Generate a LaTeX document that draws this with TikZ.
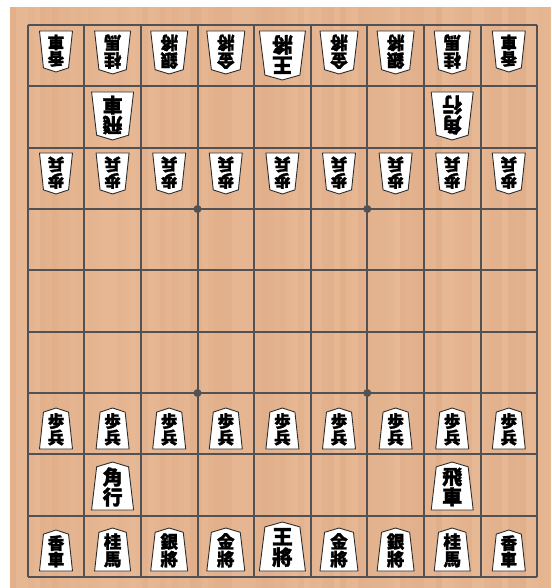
\documentclass[tikz,border=0pt]{standalone}
\usepackage{fontspec}
\newfontfamily\jp{Noto Sans CJK JP}[BoldFeatures={FakeBold=1.5}]
\usetikzlibrary{calc}

\definecolor{woodbase}{RGB}{233,186,150}
\definecolor{wooddark}{RGB}{212,158,120}
\definecolor{gridgray}{RGB}{82,82,84}
\definecolor{komaline}{RGB}{45,45,45}

\tikzset{
  koma/.style={draw=komaline,fill=white,line width=0.9pt,line join=round},
  komatext/.style={inner sep=0pt,align=center,text=black},
  ban/.style={draw=gridgray,line width=2pt},
}

% name, x, base y, width, height, angle, font size, text
\newcommand{\koma}[8]{%
  \begin{scope}[shift={({#2},{#3})},rotate=#6]
    \draw[koma] (-#4/2,0) -- (#4/2,0) -- (0.38*#4,-0.9*#5) -- (0,-#5)
      -- (-0.38*#4,-0.9*#5) -- cycle;
    \node[komatext,rotate=#6,font=\jp\bfseries\fontsize{#7}{#7}\selectfont]
      (#1) at (0,-0.48*#5) {#8};
  \end{scope}}

\begin{document}
\begin{tikzpicture}[x=1pt,y=-1pt]
  \useasboundingbox (0,0) rectangle (551,588);
  % wood
  \fill[woodbase] (10,7) rectangle (551,588);
  \pgfmathsetseed{7}
  \foreach \i in {0,...,89} {
    \pgfmathsetmacro\op{0.05+0.3*rnd}
    \fill[wooddark,opacity=\op] (10+6*\i,7) rectangle ++(6,581);
  }
  % grid
  \foreach \i in {0,...,9} {
    \draw[ban] ({27.7+56.6*\i},25) -- ({27.7+56.6*\i},577);
    \draw[ban] (27.7,{25+61.33*\i}) -- (537.1,{25+61.33*\i});
  }
  \foreach \p in {(197.5,209),(367.3,209),(197.5,393),(367.3,393)}
    \fill[gridgray] \p circle[radius=4pt];
  % back rows
  \foreach \i/\ka/\kb/\w/\h/\f in {1/香/車/33/41/16.5, 2/桂/馬/36/43/17.5,
      3/銀/將/37/43/17.5, 4/金/將/38/43/17.5, 5/王/將/46/49/20.5,
      6/金/將/38/43/17.5, 7/銀/將/37/43/17.5, 8/桂/馬/36/43/17.5,
      9/香/車/33/41/16.5} {
    \koma{s\i}{27.7+56.6*(\i-0.5)}{571}{\w}{\h}{0}{\f}{\ka\\\kb}
    \koma{g\i}{27.7+56.6*(\i-0.5)}{31}{\w}{\h}{180}{\f}{\ka\\\kb}
  }
  % pawns
  \foreach \i in {1,...,9} {
    \koma{sp\i}{27.7+56.6*(\i-0.5)}{449}{33}{41}{0}{16.5}{歩\\兵}
    \koma{gp\i}{27.7+56.6*(\i-0.5)}{153}{33}{41}{180}{16.5}{歩\\兵}
  }
  % bishop and rook
  \koma{skaku}{112.6}{510}{42}{48}{0}{20}{角\\行}
  \koma{shisha}{452.2}{510}{42}{48}{0}{20}{飛\\車}
  \koma{ghisha}{112.6}{92}{42}{48}{180}{20}{飛\\車}
  \koma{gkaku}{452.2}{92}{42}{48}{180}{20}{角\\行}
\end{tikzpicture}
\end{document}
